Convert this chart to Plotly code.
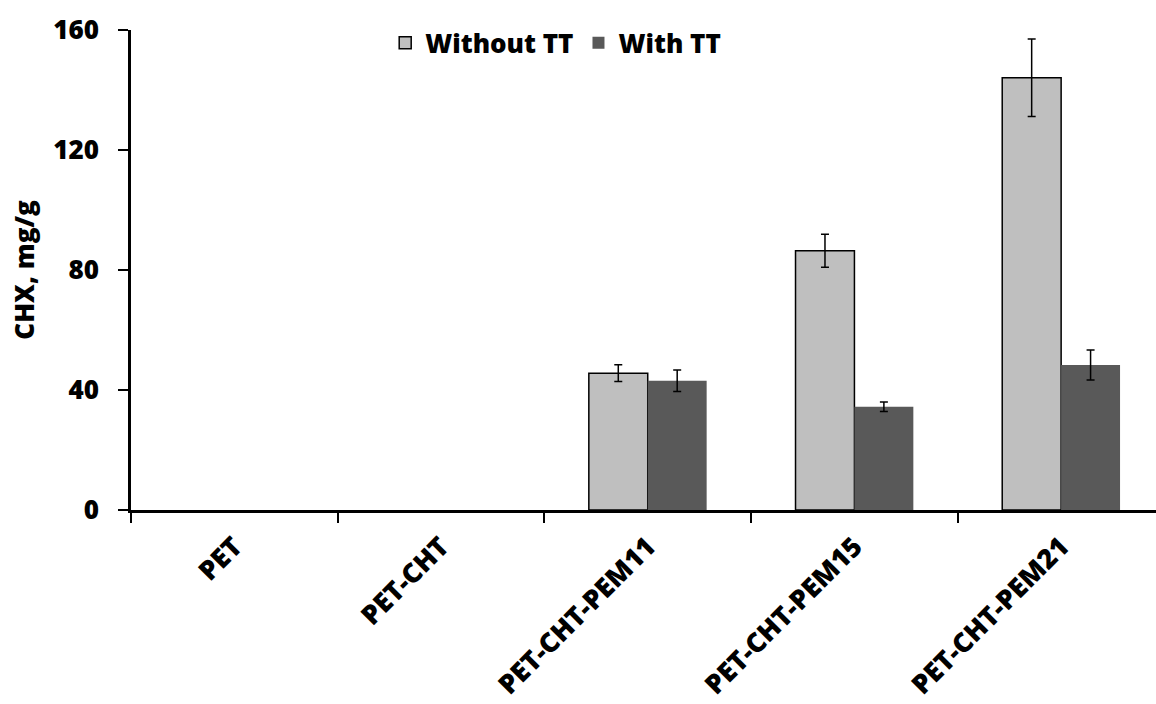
import plotly.graph_objects as go

# Samples and CHX loading (mg/g), with and without thermal treatment
samples = ["PET", "PET-CHT", "PET-CHT-PEM11", "PET-CHT-PEM15", "PET-CHT-PEM21"]
without_tt = [None, None, 45.6, 86.4, 144.1]
without_tt_err = [None, None, 2.8, 5.5, 12.9]
with_tt = [None, None, 43.1, 34.4, 48.3]
with_tt_err = [None, None, 3.6, 1.6, 5.0]

FONT = "Open Sans"
WEIGHT = 800

fig = go.Figure()
fig.add_trace(go.Bar(
    name="Without TT", x=samples, y=without_tt,
    marker=dict(color="#BFBFBF", line=dict(color="#000000", width=1.5)),
    error_y=dict(type="data", array=without_tt_err, visible=True,
                 color="#000000", thickness=1.5, width=4),
))
fig.add_trace(go.Bar(
    name="With TT", x=samples, y=with_tt,
    marker=dict(color="#595959", line=dict(color="#595959", width=0)),
    error_y=dict(type="data", array=with_tt_err, visible=True,
                 color="#000000", thickness=1.5, width=4),
))

fig.update_layout(
    width=1156, height=704,
    margin=dict(l=131, r=0, t=30, b=194),
    paper_bgcolor="white", plot_bgcolor="white",
    barmode="group", bargap=0.43, bargroupgap=0,
    font=dict(family=FONT, size=26, color="#000000"),
    showlegend=True,
    legend=dict(
        orientation="h", x=0.248, xanchor="left", y=0.973, yanchor="middle",
        font=dict(family=FONT, size=26, color="#000000", weight=WEIGHT),
        bgcolor="rgba(0,0,0,0)", itemwidth=30, tracegroupgap=0,
    ),
    xaxis=dict(
        type="category", range=[-0.5, 4.459], automargin=False,
        showline=True, linecolor="#000000", linewidth=3,
        ticks="outside", ticklen=10, tickwidth=2, tickcolor="#000000",
        tickson="boundaries", tickangle=-45, ticklabelstandoff=7,
        tickfont=dict(family=FONT, size=27, color="#000000", weight=WEIGHT),
        showgrid=False, zeroline=False,
    ),
    yaxis=dict(
        range=[0, 160], tickvals=[0, 40, 80, 120, 160], automargin=False,
        showline=True, linecolor="#000000", linewidth=2.5,
        ticks="outside", ticklen=10, tickwidth=2, tickcolor="#000000",
        ticklabelstandoff=14,
        tickfont=dict(family=FONT, size=26, color="#000000", weight=WEIGHT),
        title=dict(text="CHX, mg/g", standoff=12,
                   font=dict(family=FONT, size=26, color="#000000", weight=WEIGHT)),
        showgrid=False, zeroline=False,
    ),
)

fig.write_html("out.html")
